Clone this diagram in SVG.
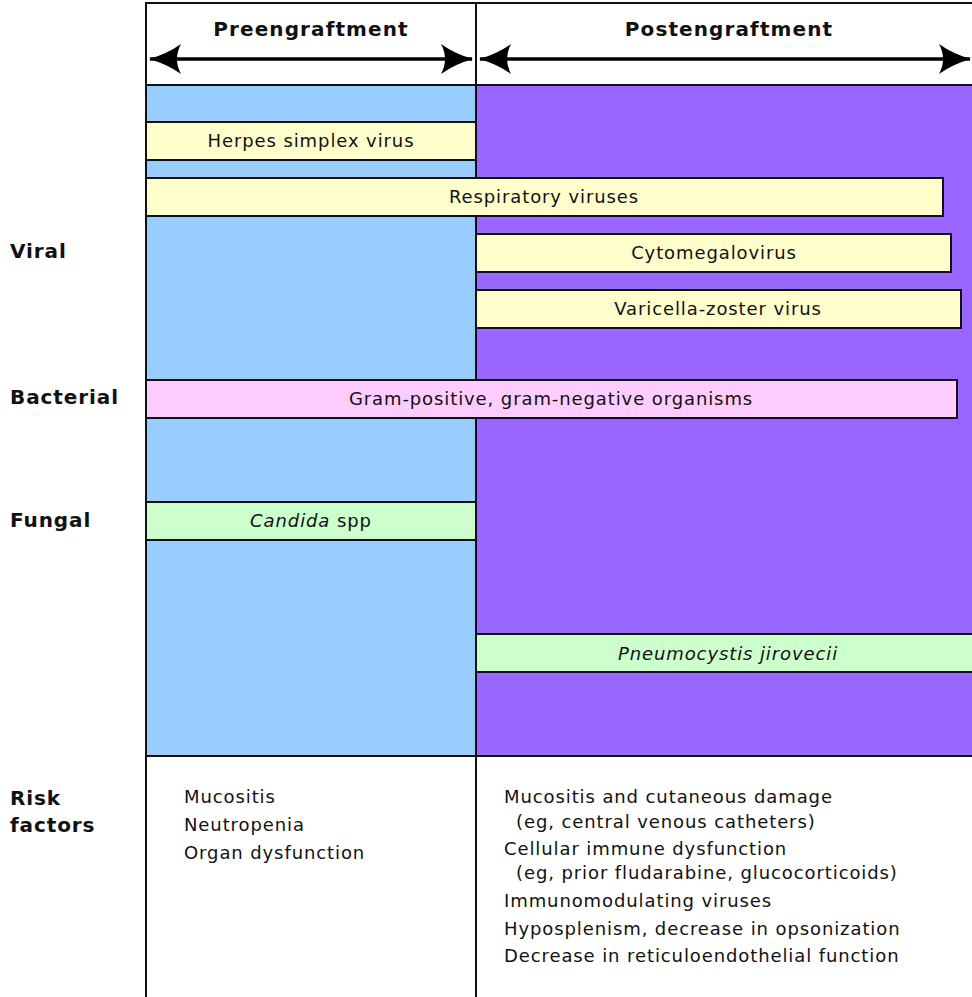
<svg xmlns="http://www.w3.org/2000/svg" width="972" height="997" viewBox="0 0 972 997">
<style>
text{font-family:"DejaVu Sans",Verdana,sans-serif;fill:#111}
.b{font-size:18px;letter-spacing:0.9px;text-anchor:middle}
.h{font-size:20px;font-weight:bold;letter-spacing:1.1px;text-anchor:middle}
.lab{font-size:20px;font-weight:bold;letter-spacing:0.9px}
.r{font-size:18px;letter-spacing:0.9px}
.box{stroke:#111;stroke-width:2}
.y{fill:#FFFFCC}
.p{fill:#FFCCFF}
.g{fill:#CCFFCC}
.ln{stroke:#111;stroke-width:2;fill:none}
</style>
<defs>
<marker id="ah" viewBox="0 0 32 30" refX="31" refY="15" markerWidth="32" markerHeight="30" markerUnits="userSpaceOnUse" orient="auto-start-reverse">
<path d="M0,0 Q14,10 32,15 Q14,20 0,30 Q8,15 0,0 Z" fill="#000"/>
</marker>
</defs>
<rect x="0" y="0" width="972" height="997" fill="#fff"/>
<g id="background">
<rect x="147" y="86" width="329" height="670" fill="#99CCFF"/>
<rect x="476" y="86" width="496" height="670" fill="#9966FF"/>
</g>
<g id="frame">
<path class="ln" d="M146,997 V3 H972 M476,3 V997 M146,85 H972 M146,756 H972"/>
</g>
<g id="connectors">
<line x1="150" y1="59" x2="472" y2="59" stroke="#000" stroke-width="3.5" marker-start="url(#ah)" marker-end="url(#ah)"/>
<line x1="480" y1="59" x2="970" y2="59" stroke="#000" stroke-width="3.5" marker-start="url(#ah)" marker-end="url(#ah)"/>
</g>
<g id="header-pre"><text class="h" x="311" y="36">Preengraftment</text></g>
<g id="header-post"><text class="h" x="729" y="36">Postengraftment</text></g>
<g id="label-viral"><text class="lab" x="10" y="258">Viral</text></g>
<g id="label-bacterial"><text class="lab" x="10" y="404">Bacterial</text></g>
<g id="label-fungal"><text class="lab" x="10" y="527">Fungal</text></g>
<g id="label-risk"><text class="lab" x="10" y="805">Risk</text><text class="lab" x="10" y="832">factors</text></g>
<g id="hsv"><rect class="box y" x="146" y="122" width="330" height="38"/><text class="b" x="311" y="147">Herpes simplex virus</text></g>
<g id="resp"><rect class="box y" x="146" y="178" width="797" height="38"/><text class="b" x="544" y="203">Respiratory viruses</text></g>
<g id="cmv"><rect class="box y" x="476" y="234" width="475" height="38"/><text class="b" x="714" y="259">Cytomegalovirus</text></g>
<g id="vzv"><rect class="box y" x="476" y="290" width="485" height="38"/><text class="b" x="718" y="315">Varicella-zoster virus</text></g>
<g id="bact"><rect class="box p" x="146" y="380" width="811" height="38"/><text class="b" x="551" y="405">Gram-positive, gram-negative organisms</text></g>
<g id="candida"><rect class="box g" x="146" y="502" width="330" height="38"/><text class="b" x="311" y="527"><tspan font-style="italic">Candida</tspan> spp</text></g>
<g id="pcp"><rect class="box g" x="476" y="634" width="498" height="38"/><text class="b" x="728" y="660" font-style="italic">Pneumocystis jirovecii</text></g>
<g id="risk-pre">
<text class="r" x="184" y="803">Mucositis</text>
<text class="r" x="184" y="831">Neutropenia</text>
<text class="r" x="184" y="859">Organ dysfunction</text>
</g>
<g id="risk-post">
<text class="r" x="504" y="803">Mucositis and cutaneous damage</text>
<text class="r" x="516" y="828">(eg, central venous catheters)</text>
<text class="r" x="504" y="855">Cellular immune dysfunction</text>
<text class="r" x="516" y="879">(eg, prior fludarabine, glucocorticoids)</text>
<text class="r" x="504" y="907">Immunomodulating viruses</text>
<text class="r" x="504" y="935">Hyposplenism, decrease in opsonization</text>
<text class="r" x="504" y="962">Decrease in reticuloendothelial function</text>
</g>
</svg>
